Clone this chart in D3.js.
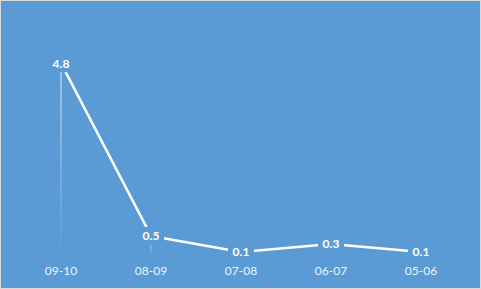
<!DOCTYPE html>
<html>
<head>
<meta charset="utf-8">
<script src="https://cdn.jsdelivr.net/npm/d3@7"></script>
<style>
  body { margin: 0; background: #fff; }
  #chart { width: 481px; height: 289px; }
</style>
</head>
<body>
<div id="chart"></div>
<script>
var categories = ["09-10", "08-09", "07-08", "06-07", "05-06"];
var values = [4.8, 0.5, 0.1, 0.3, 0.1];
var yDomain = [0, 6];

var W = 481, H = 289;
var bg = "#5b9bd5";
var plot = { left: 16, right: 466, top: 15, bottom: 256 };

var svg = d3.select("#chart").append("svg")
  .attr("width", W)
  .attr("height", H);

svg.append("rect")
  .attr("x", 0.5).attr("y", 0.5)
  .attr("width", W - 1).attr("height", H - 1)
  .attr("fill", bg)
  .attr("stroke", "#d9d9d9");

var x = d3.scaleBand().domain(categories).range([plot.left, plot.right]);
var y = d3.scaleLinear().domain(yDomain).range([plot.bottom, plot.top]);
var cx = function (d) { return x(d) + x.bandwidth() / 2; };

// fading drop lines
var grad = svg.append("defs").append("linearGradient")
  .attr("id", "drop").attr("x1", 0).attr("y1", 0).attr("x2", 0).attr("y2", 1);
grad.append("stop").attr("offset", "0%").attr("stop-color", "#fff").attr("stop-opacity", 0.85);
grad.append("stop").attr("offset", "100%").attr("stop-color", "#fff").attr("stop-opacity", 0);

svg.selectAll("rect.drop")
  .data(categories)
  .enter().append("rect")
  .attr("class", "drop")
  .attr("x", function (d) { return cx(d) - 0.5; })
  .attr("y", function (d, i) { return y(values[i]); })
  .attr("width", 1)
  .attr("height", function (d, i) { return Math.max(0, y(0) - y(values[i])); })
  .attr("fill", "url(#drop)");

var line = d3.line()
  .x(function (d, i) { return cx(categories[i]); })
  .y(function (d) { return y(d); });

svg.append("path")
  .datum(values)
  .attr("d", line)
  .attr("fill", "none")
  .attr("stroke", "#fff")
  .attr("stroke-width", 2.5)
  .attr("stroke-linejoin", "round");

// data labels with background patch so the line breaks around them
var lab = svg.selectAll("g.lab")
  .data(values)
  .enter().append("g")
  .attr("class", "lab")
  .attr("transform", function (d, i) { return "translate(" + cx(categories[i]) + "," + y(d) + ")"; });

lab.append("rect")
  .attr("x", -13).attr("y", -9)
  .attr("width", 26).attr("height", 18)
  .attr("fill", bg);

lab.append("text")
  .attr("text-anchor", "middle")
  .attr("dy", "0.36em")
  .attr("fill", "#fff")
  .style("font-family", "Lato, 'Open Sans', sans-serif")
  .style("font-size", "12px")
  .style("font-weight", "bold")
  .text(function (d) { return d; });

// category axis labels
svg.append("g")
  .attr("transform", "translate(0," + plot.bottom + ")")
  .call(d3.axisBottom(x).tickSize(0).tickPadding(10))
  .call(function (g) { g.select(".domain").remove(); })
  .selectAll("text")
  .attr("fill", "#eef3fa")
  .style("font-family", "Lato, 'Open Sans', sans-serif")
  .style("font-size", "12px");
</script>
</body>
</html>
